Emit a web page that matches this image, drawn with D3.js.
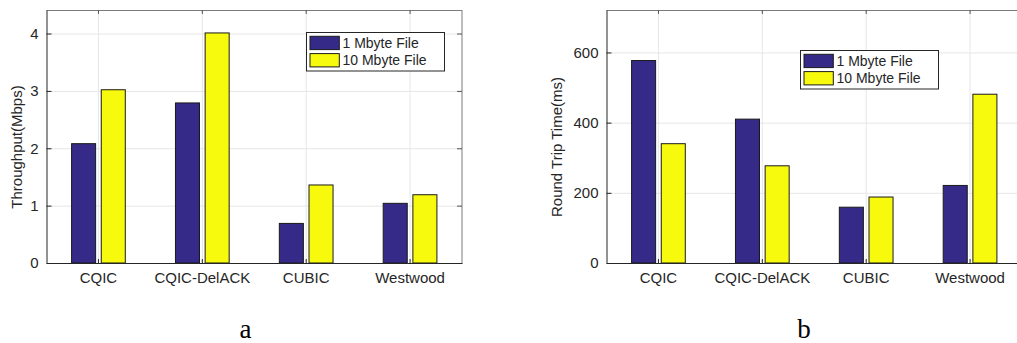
<!DOCTYPE html>
<html lang="en">
<head>
    <meta charset="UTF-8">
    <title>Throughput and RTT</title>
    <script src="https://d3js.org/d3.v7.min.js"></script>
    <style>
        body { margin: 0; background: #fff; }
        svg { display: block; }
        text { font-family: "Liberation Sans", Arial, sans-serif; fill: #262626; }
        .caption { font-family: "Liberation Serif", "Times New Roman", serif; fill: #000; }
    </style>
</head>
<body>
    <svg id="chart" width="1017" height="343"></svg>

    <script>
        // Categories (x axis) and series names
        const categories = ["CQIC", "CQIC-DelACK", "CUBIC", "Westwood"];
        const seriesNames = ["1 Mbyte File", "10 Mbyte File"];

        // Panel a: throughput in Mbps
        const throughput1MB = [2.08, 2.79, 0.69, 1.04];
        const throughput10MB = [3.02, 4.01, 1.36, 1.19];
        const throughputTicks = [0, 1, 2, 3, 4];

        // Panel b: round trip time in ms
        const rtt1MB = [577, 410, 159, 221];
        const rtt10MB = [340, 277, 188, 481];
        const rttTicks = [0, 200, 400, 600];

        // Series colours (parula ends)
        const colors = ["#352a87", "#f8fa0d"];

        const svg = d3.select("#chart");

        // plot area size shared by both panels
        const plotWidth = 415.5;
        const plotHeight = 253;
        const plotTop = 10;

        function drawPanel(opts) {
            const g = svg.append("g")
                .attr("transform", `translate(${opts.left}, ${plotTop})`);

            const x = d3.scaleBand()
                .domain(categories)
                .range([0, plotWidth])
                .padding(0);

            // bars inside one group
            const xInner = d3.scaleBand()
                .domain(seriesNames)
                .range([x.bandwidth() * 0.2415, x.bandwidth() * 0.7585])
                .paddingInner(0.19);

            const y = d3.scaleLinear()
                .domain([0, opts.yMax])
                .range([plotHeight, 0]);

            // grid lines
            g.append("g")
                .selectAll("line")
                .data(opts.ticks)
                .enter()
                .append("line")
                .attr("x1", 0)
                .attr("x2", plotWidth)
                .attr("y1", d => y(d) + 0.5)
                .attr("y2", d => y(d) + 0.5)
                .attr("stroke", "#e6e6e6");

            g.append("g")
                .selectAll("line")
                .data(categories)
                .enter()
                .append("line")
                .attr("x1", d => x(d) + x.bandwidth() / 2)
                .attr("x2", d => x(d) + x.bandwidth() / 2)
                .attr("y1", 0)
                .attr("y2", plotHeight)
                .attr("stroke", "#e6e6e6");

            // bars
            const rows = categories.map((c, i) => ({ cat: c, values: [opts.s1[i], opts.s2[i]] }));
            g.append("g")
                .selectAll("g")
                .data(rows)
                .enter()
                .append("g")
                .attr("transform", d => `translate(${x(d.cat)}, 0)`)
                .selectAll("rect")
                .data(d => d.values.map((v, k) => ({ name: seriesNames[k], value: v, k })))
                .enter()
                .append("rect")
                .attr("x", d => xInner(d.name))
                .attr("y", d => y(d.value))
                .attr("width", xInner.bandwidth())
                .attr("height", d => plotHeight - y(d.value))
                .attr("fill", d => colors[d.k])
                .attr("stroke", "#1a1a1a")
                .attr("stroke-width", 1);

            // box: top and right edges in gray
            g.append("line")
                .attr("x1", 0).attr("x2", plotWidth)
                .attr("y1", 0.5).attr("y2", 0.5)
                .attr("stroke", "#7a7a7a");
            g.append("line")
                .attr("x1", plotWidth).attr("x2", plotWidth)
                .attr("y1", 0).attr("y2", plotHeight)
                .attr("stroke", "#7a7a7a");

            // inward ticks on top and right
            g.append("g")
                .selectAll("line")
                .data(categories)
                .enter()
                .append("line")
                .attr("x1", d => x(d) + x.bandwidth() / 2)
                .attr("x2", d => x(d) + x.bandwidth() / 2)
                .attr("y1", 0)
                .attr("y2", 4)
                .attr("stroke", "#555");
            g.append("g")
                .selectAll("line")
                .data(opts.ticks)
                .enter()
                .append("line")
                .attr("x1", plotWidth - 5)
                .attr("x2", plotWidth)
                .attr("y1", d => y(d) + 0.5)
                .attr("y2", d => y(d) + 0.5)
                .attr("stroke", "#555");

            // x axis
            const xAxis = g.append("g")
                .attr("transform", `translate(0, ${plotHeight})`)
                .call(d3.axisBottom(x).tickSizeInner(-4).tickSizeOuter(0).tickPadding(9));
            xAxis.select(".domain").attr("stroke", "#262626");
            xAxis.selectAll(".tick line").attr("stroke", "#262626");
            xAxis.selectAll("text").attr("font-size", "15px").attr("fill", "#262626");

            // y axis
            const yAxis = g.append("g")
                .call(d3.axisLeft(y)
                    .tickValues(opts.ticks)
                    .tickFormat(d3.format("d"))
                    .tickSizeInner(-5)
                    .tickSizeOuter(0)
                    .tickPadding(8));
            yAxis.select(".domain").attr("stroke", "#262626");
            yAxis.selectAll(".tick line").attr("stroke", "#262626");
            yAxis.selectAll("text").attr("font-size", "15px").attr("fill", "#262626");

            // label for y axis
            g.append("text")
                .attr("transform", "rotate(-90)")
                .attr("x", -(147 - plotTop))
                .attr("y", opts.labelX - opts.left)
                .attr("text-anchor", "middle")
                .attr("font-size", "15px")
                .text(opts.label);

            // legend
            const lg = g.append("g")
                .attr("transform", `translate(${opts.legendX - opts.left}, ${opts.legendY - plotTop})`);
            lg.append("rect")
                .attr("width", 138)
                .attr("height", 38.5)
                .attr("fill", "#fff")
                .attr("stroke", "#262626");
            seriesNames.forEach((name, k) => {
                lg.append("rect")
                    .attr("x", 3.5)
                    .attr("y", 3.8 + k * 17.3)
                    .attr("width", 29.3)
                    .attr("height", 13.3)
                    .attr("fill", colors[k])
                    .attr("stroke", "#1a1a1a");
                lg.append("text")
                    .attr("x", 36)
                    .attr("y", 10.5 + k * 17.3)
                    .attr("dy", "0.35em")
                    .attr("font-size", "14px")
                    .text(name);
            });

            // caption below panel
            svg.append("text")
                .attr("class", "caption")
                .attr("x", opts.captionX)
                .attr("y", 338)
                .attr("text-anchor", "middle")
                .attr("font-size", "27px")
                .text(opts.caption);
        }

        drawPanel({
            left: 46.5, yMax: 4.41, ticks: throughputTicks,
            s1: throughput1MB, s2: throughput10MB,
            label: "Throughput(Mbps)", labelX: 22,
            legendX: 306.5, legendY: 32.5,
            caption: "a", captionX: 245.5
        });

        drawPanel({
            left: 606.5, yMax: 721, ticks: rttTicks,
            s1: rtt1MB, s2: rtt10MB,
            label: "Round Trip Time(ms)", labelX: 562,
            legendX: 800.5, legendY: 50.5,
            caption: "b", captionX: 804
        });
    </script>
</body>
</html>
